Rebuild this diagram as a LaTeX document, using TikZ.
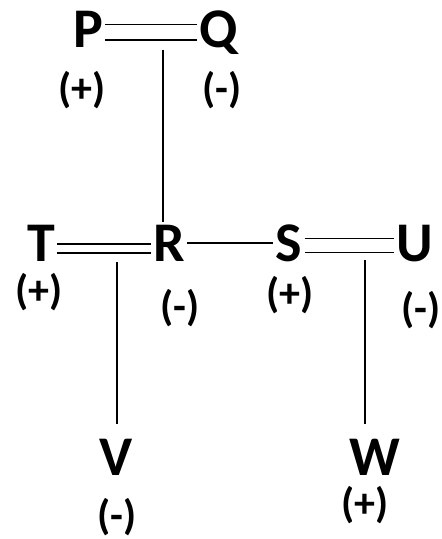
\documentclass[tikz,border=0pt]{standalone}
\usepackage{fontspec}
\setmainfont{Carlito}

\begin{document}
\begin{tikzpicture}
	[x=0.5pt,y=-0.5pt,line width=0.9pt,
	atom/.style={inner sep=0.8pt,text depth=0pt,font=\fontsize{28}{32}\selectfont\bfseries},
	every label/.style={inner sep=0pt,font=\fontsize{21}{24}\selectfont\bfseries},
	bond/.style={double,double distance=#1}]
	\useasboundingbox (0,0) rectangle (441,539);
	\node[atom,label={[xshift=-3pt,yshift=-30.5pt]center:{(+)}}] (P) at (88,29) {P};
	\node[atom,label={[xshift=1.5pt,yshift=-30.5pt]center:{(-)}}] (Q) at (219,29) {Q};
	\node[atom,label={[xshift=-1pt,yshift=-24.5pt]center:{(+)}}] (T) at (41,243) {T};
	\node[atom,label={[xshift=5.5pt,yshift=-32.5pt]center:{(-)}}] (R) at (169,243) {R};
	\node[atom,label={[xshift=0.5pt,yshift=-26pt]center:{(+)}}] (S) at (289,243) {S};
	\node[atom,label={[xshift=3pt,yshift=-33.5pt]center:{(-)}}] (U) at (415,243) {U};
	\node[atom,label={[xshift=0.5pt,yshift=-30pt]center:{(-)}}] (V) at (116,457) {V};
	\node[atom,label={[xshift=-5pt,yshift=-24pt]center:{(+)}}] (W) at (375,457) {W};
	
	\draw[bond=7pt] ([yshift=-1.75pt]P.east) -- ([yshift=-1.75pt]Q.west);
	\draw[bond=3.5pt] ([yshift=-2.75pt]T.east) -- ([yshift=-2.75pt]R.west);
	\draw (R) -- (S);
	\draw[bond=6pt] ([yshift=-1.25pt]S.east) -- ([yshift=-1.25pt]U.west);
	
	\coordinate (pq) at (163,50);
	\coordinate (tr) at (117,262);
	\coordinate (su) at (365,260);
	\draw (pq) -- (pq |- R.north);
	\draw[shorten >=6pt] (tr) -- (tr |- V.north);
	\draw[shorten >=6pt] (su) -- (su |- W.north);
\end{tikzpicture}
\end{document}
